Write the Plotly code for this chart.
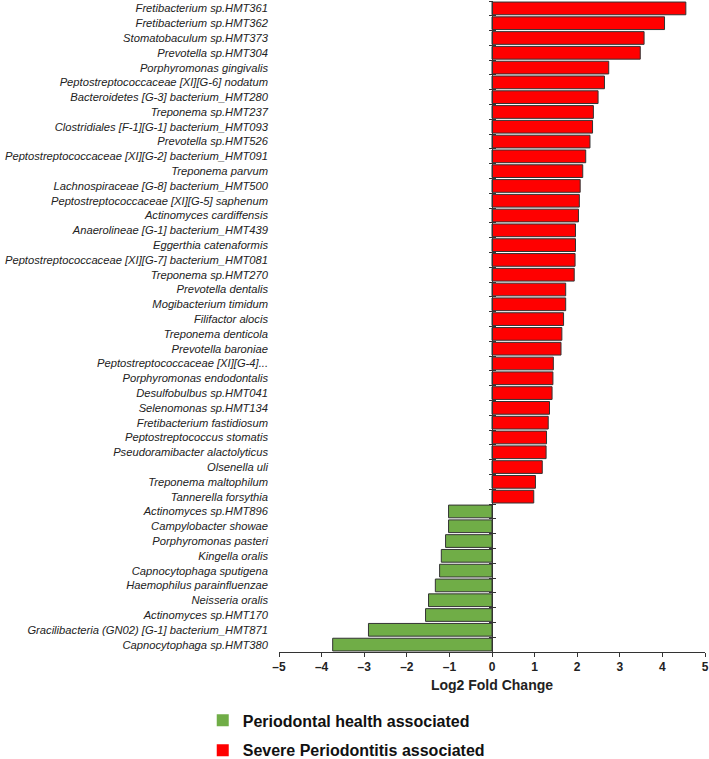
import plotly.graph_objects as go

species = [
    "Fretibacterium sp.HMT361", "Fretibacterium sp.HMT362", "Stomatobaculum sp.HMT373",
    "Prevotella sp.HMT304", "Porphyromonas gingivalis", "Peptostreptococcaceae [XI][G-6] nodatum",
    "Bacteroidetes [G-3] bacterium_HMT280", "Treponema sp.HMT237",
    "Clostridiales [F-1][G-1] bacterium_HMT093", "Prevotella sp.HMT526",
    "Peptostreptococcaceae [XI][G-2] bacterium_HMT091", "Treponema parvum",
    "Lachnospiraceae [G-8] bacterium_HMT500", "Peptostreptococcaceae [XI][G-5] saphenum",
    "Actinomyces cardiffensis", "Anaerolineae [G-1] bacterium_HMT439", "Eggerthia catenaformis",
    "Peptostreptococcaceae [XI][G-7] bacterium_HMT081", "Treponema sp.HMT270",
    "Prevotella dentalis", "Mogibacterium timidum", "Filifactor alocis", "Treponema denticola",
    "Prevotella baroniae", "Peptostreptococcaceae [XI][G-4]...", "Porphyromonas endodontalis",
    "Desulfobulbus sp.HMT041", "Selenomonas sp.HMT134", "Fretibacterium fastidiosum",
    "Peptostreptococcus stomatis", "Pseudoramibacter alactolyticus", "Olsenella uli",
    "Treponema maltophilum", "Tannerella forsythia",
    "Actinomyces sp.HMT896", "Campylobacter showae", "Porphyromonas pasteri", "Kingella oralis",
    "Capnocytophaga sputigena", "Haemophilus parainfluenzae", "Neisseria oralis",
    "Actinomyces sp.HMT170", "Gracilibacteria (GN02) [G-1] bacterium_HMT871",
    "Capnocytophaga sp.HMT380",
]
log2fc = [
    4.55, 4.05, 3.57, 3.48, 2.74, 2.64, 2.49, 2.38, 2.36, 2.30, 2.20, 2.13,
    2.07, 2.05, 2.03, 1.96, 1.96, 1.95, 1.93, 1.73, 1.73, 1.68, 1.64, 1.62,
    1.44, 1.43, 1.41, 1.35, 1.32, 1.28, 1.27, 1.18, 1.02, 0.98,
    -1.02, -1.02, -1.09, -1.19, -1.23, -1.33, -1.49, -1.56, -2.90, -3.74,
]
x_ticks = [-5, -4, -3, -2, -1, 0, 1, 2, 3, 4, 5]
legend_health = "Periodontal health associated"
legend_perio = "Severe Periodontitis associated"

RED = "#ff0000"
GREEN = "#70ad47"
DARK = "#333333"

n = len(species)
pos_names = [s for s, v in zip(species, log2fc) if v > 0]
pos_vals = [v for v in log2fc if v > 0]
neg_names = [s for s, v in zip(species, log2fc) if v < 0]
neg_vals = [v for v in log2fc if v < 0]

fig = go.Figure()
fig.add_trace(go.Bar(y=pos_names, x=pos_vals, orientation="h", showlegend=False,
                     marker=dict(color=RED, line=dict(color=DARK, width=1))))
fig.add_trace(go.Bar(y=neg_names, x=neg_vals, orientation="h", showlegend=False,
                     marker=dict(color=GREEN, line=dict(color=DARK, width=1))))
# legend-only entries
fig.add_trace(go.Bar(y=[None], x=[None], orientation="h", name=legend_health, legendgroup="g1",
                     marker=dict(color=GREEN, line=dict(width=0))))
fig.add_trace(go.Bar(y=[None], x=[None], orientation="h", name=legend_perio, legendgroup="g2",
                     marker=dict(color=RED, line=dict(width=0))))
# invisible traces to carry the zero-axis tick overlays
for ax in ["y2", "y3"]:
    fig.add_trace(go.Scatter(x=log2fc, y=list(range(n)), yaxis=ax, mode="markers",
                             marker=dict(opacity=0), hoverinfo="skip", showlegend=False))

fig.update_layout(
    width=709, height=759,
    margin=dict(l=279, r=4, t=1, b=107, autoexpand=False),
    paper_bgcolor="white", plot_bgcolor="white",
    bargap=0.14, barmode="overlay",
    font=dict(family="Liberation Sans, Arial, sans-serif", color="#222222"),
    xaxis=dict(range=[-5, 5], tickmode="array", tickvals=x_ticks, automargin=False,
               ticktext=[("\u2013" + str(abs(t))) if t < 0 else str(t) for t in x_ticks],
               showgrid=False, zeroline=False, showline=True, linecolor=DARK, linewidth=1,
               ticks="outside", ticklen=4, tickcolor=DARK,
               tickfont=dict(size=12, weight="bold", color="#222222"),
               title=dict(text="Log2 Fold Change", font=dict(size=14, weight="bold", color="#222222"),
                          standoff=6)),
    yaxis=dict(type="category", categoryorder="array", categoryarray=species, automargin=False,
               range=[n - 0.5, -0.5], showgrid=False, zeroline=False, showline=False,
               ticks="", ticklabelstandoff=10,
               tickfont=dict(size=11.2, style="italic", color="#222222")),
    yaxis2=dict(overlaying="y", anchor="free", position=0.5, range=[n - 0.5, -0.5], automargin=False,
                tickmode="linear", tick0=0.5, dtick=1, ticks="outside", ticklen=3,
                tickcolor=DARK, showticklabels=False, showline=True, linecolor=DARK,
                linewidth=1, showgrid=False, zeroline=False),
    yaxis3=dict(overlaying="y", anchor="free", position=0.5, range=[n - 0.5, -0.5], automargin=False,
                tickmode="linear", tick0=0.5, dtick=1, ticks="inside", ticklen=3,
                tickcolor=DARK, showticklabels=False, showline=False,
                showgrid=False, zeroline=False),
    legend=dict(x=-0.179, y=-0.079, xanchor="left", yanchor="top",
                font=dict(size=16, weight="bold", color="#111111"),
                traceorder="grouped", tracegroupgap=6, itemclick=False),
    showlegend=True,
)

fig.write_html("out.html", config={"displayModeBar": False},
               post_script="document.body.style.margin='0px';")
